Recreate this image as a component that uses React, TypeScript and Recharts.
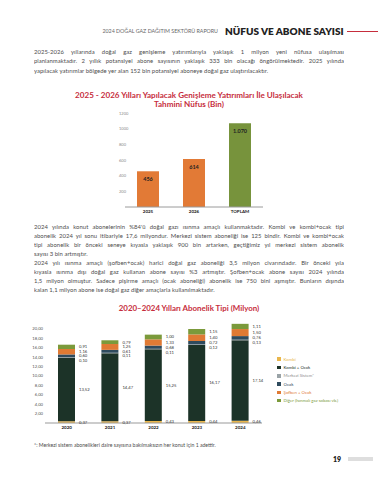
import React from "react";
import { Bar, BarChart, LabelList, XAxis, YAxis, Cell } from "recharts";

// chart 1: expected population (thousand)
const popYears = ["2025", "2026", "TOPLAM"];
const popValues = [456, 614, 1070];
const popLabels = ["456", "614", "1.070"];
const popTicks = [200, 400, 600, 800, 1000, 1200];

// chart 2: subscription type (million)
const subYears = ["2020", "2021", "2022", "2023", "2024"];
const kombi = [0.37, 0.37, 0.43, 0.44, 0.46];
const kombiOcak = [13.52, 14.47, 15.25, 16.17, 17.14];
const merkezi = [0.1, 0.11, 0.11, 0.12, 0.13];
const ocak = [0.6, 0.61, 0.68, 0.72, 0.76];
const sofben = [1.16, 1.25, 1.33, 1.4, 1.5];
const diger = [0.91, 0.79, 1.0, 1.15, 1.11];
const subTicks = [2, 4, 6, 8, 10, 12, 14, 16, 18, 20];

const RED = "#c62d3c";
const TEXT = "#4d4d4d";
const FONT = "Lato, 'Open Sans', sans-serif";

const SERIES = [
  { key: "kombi", name: "Kombi", color: "#e9b64c", dy: 0 },
  { key: "kombiOcak", name: "Kombi + Ocak", color: "#1c3328", dy: 0 },
  { key: "merkezi", name: "Merkezi Sistem*", color: "#9aa3a7", dy: 3 },
  { key: "ocak", name: "Ocak", color: "#2f4b5e", dy: 0 },
  { key: "sofben", name: "Şofben + Ocak", color: "#e07a34", dy: 0 },
  { key: "diger", name: "Diğer (Isınmalı gaz sobası vb.)", color: "#7b9a3b", dy: 0 },
];

const popData = popYears.map((year, i) => ({ year, value: popValues[i], label: popLabels[i] }));
const subData = subYears.map((year, i) => ({
  year,
  kombi: kombi[i],
  kombiOcak: kombiOcak[i],
  merkezi: merkezi[i],
  ocak: ocak[i],
  sofben: sofben[i],
  diger: diger[i],
}));

const fmt = (v: number) => v.toFixed(2).replace(".", ",");

const para1 = [
  "2025-2026 yıllarında doğal gaz genişleme yatırımlarıyla yaklaşık 1 milyon yeni nüfusa ulaşılması",
  "planlanmaktadır. 2 yıllık potansiyel abone sayısının yaklaşık 333 bin olacağı öngörülmektedir. 2025 yılında",
  "yapılacak yatırımlar bölgede yer alan 152 bin potansiyel aboneye doğal gaz ulaştırılacaktır.",
];
const para2 = [
  "2024 yılında konut abonelerinin %84'ü doğal gazı ısınma amaçlı kullanmaktadır. Kombi ve kombi+ocak tipi",
  "abonelik 2024 yıl sonu itibariyle 17,6 milyondur. Merkezi sistem aboneliği ise 125 bindir. Kombi ve kombi+ocak",
  "tipi abonelik bir önceki seneye kıyasla yaklaşık 900 bin artarken, geçtiğimiz yıl merkezi sistem abonelik",
  "sayısı 3 bin artmıştır.",
  "2024 yılı ısınma amaçlı (şofben+ocak) harici doğal gaz aboneliği 3,5 milyon civarındadır. Bir önceki yıla",
  "kıyasla ısınma dışı doğal gaz kullanan abone sayısı %3 artmıştır. Şofben+ocak abone sayısı 2024 yılında",
  "1,5 milyon olmuştur. Sadece pişirme amaçlı (ocak aboneliği) abonelik ise 750 bini aşmıştır. Bunların dışında",
  "kalan 1,1 milyon abone ise doğal gaz diğer amaçlarla kullanılmaktadır.",
];
const lastLines1 = [2];
const lastLines2 = [3, 7];

function Paragraph({ lines, last, top, lh }: { lines: string[]; last: number[]; top: number; lh: number }) {
  return (
    <div style={{ position: "absolute", left: 34, top, width: 310, fontSize: 5.9, letterSpacing: 0.05, lineHeight: `${lh}px`, color: TEXT }}>
      {lines.map((l, i) => (
        <div key={i} style={{ textAlign: "justify", textAlignLast: last.includes(i) ? "left" : "justify", height: lh, overflow: "hidden" }}>
          {l}
        </div>
      ))}
    </div>
  );
}

const PopTick = ({ y, payload }: any) => (
  <text x={19} y={y} fontSize={4} fill="#8a8a8a" dominantBaseline="central" fontFamily={FONT}>
    {payload.value}
  </text>
);

const segLabel = (dy: number) => (props: any) => {
  const { x, y, width, height, value } = props;
  return (
    <text x={x + width + 4} y={y + height / 2 + dy} fontSize={4.2} fill="#333" dominantBaseline="central" fontFamily={FONT}>
      {fmt(Number(value))}
    </text>
  );
};

export default function App() {
  return (
    <div style={{ position: "absolute", left: 0, top: 0, width: 378, height: 480, background: "#fff", overflow: "hidden", fontFamily: FONT }}>
      {/* header */}
      <div style={{ position: "absolute", right: 378 - 218, top: 27, fontSize: 5.3, color: "#666", whiteSpace: "nowrap", lineHeight: "8px" }}>
        2024 DOĞAL GAZ DAĞITIM SEKTÖRÜ RAPORU
      </div>
      <div style={{ position: "absolute", left: 225, top: 25, fontSize: 10, fontWeight: 800, color: "#222", whiteSpace: "nowrap", lineHeight: "12px" }}>
        NÜFUS VE ABONE SAYISI
      </div>
      <div style={{ position: "absolute", left: 347, top: 30.5, width: 31, height: 1.2, background: RED }} />

      <Paragraph lines={para1} last={lastLines1} top={47} lh={9.3} />

      <div style={{ position: "absolute", left: 0, top: 91, width: 378, textAlign: "center", color: RED, fontWeight: 700, fontSize: 8.1, lineHeight: "8.8px", whiteSpace: "nowrap" }}>
        <div>2025 - 2026 Yılları Yapılacak Genişleme Yatırımları İle Ulaşılacak</div>
        <div>Tahmini Nüfus (Bin)</div>
      </div>

      <div style={{ position: "absolute", left: 100, top: 105 }}>
        <BarChart width={180} height={115} data={popData} margin={{ top: 8, right: 17, bottom: 3, left: 0 }}>
          <XAxis
            dataKey="year"
            axisLine={{ stroke: "#9a9a9a" }}
            tickLine={false}
            tickSize={0}
            tickMargin={3}
            height={10}
            interval={0}
            tick={{ fontSize: 4.5, fontWeight: 700, fill: "#222", fontFamily: FONT }}
          />
          <YAxis width={25} domain={[0, 1200]} ticks={popTicks} interval={0} axisLine={false} tickLine={false} tick={<PopTick />} />
          <Bar dataKey="value" barSize={22} isAnimationActive={false}>
            {popData.map((_, i) => (
              <Cell key={i} fill={i === 2 ? "#77933c" : "#e27a36"} />
            ))}
            <LabelList dataKey="label" position="insideTop" offset={6} style={{ fontSize: 5.5, fontWeight: 700, fill: "#222", fontFamily: FONT }} />
          </Bar>
        </BarChart>
      </div>

      <Paragraph lines={para2} last={lastLines2} top={221.5} lh={9.1} />

      <div style={{ position: "absolute", left: 0, top: 304, width: 378, textAlign: "center", color: RED, fontWeight: 700, fontSize: 7.9, lineHeight: "8px", whiteSpace: "nowrap" }}>
        2020–2024 Yılları Abonelik Tipi (Milyon)
      </div>

      <div style={{ position: "absolute", left: 25, top: 316 }}>
        <BarChart width={252} height={118} data={subData} margin={{ top: 3.6, right: 15, bottom: 1, left: 0 }}>
          <XAxis
            dataKey="year"
            axisLine={{ stroke: "#999" }}
            tickLine={false}
            tickSize={0}
            tickMargin={3}
            height={10}
            interval={0}
            tick={{ fontSize: 4.5, fontWeight: 700, fill: "#222", fontFamily: FONT }}
          />
          <YAxis
            width={20}
            domain={[0, 22]}
            ticks={subTicks}
            interval={0}
            axisLine={false}
            tickLine={false}
            tickSize={0}
            tickMargin={2}
            tickFormatter={fmt}
            tick={{ fontSize: 4.2, fill: "#555", fontFamily: FONT }}
          />
          {SERIES.map((s) => (
            <Bar key={s.key} dataKey={s.key} stackId="a" fill={s.color} barSize={17} isAnimationActive={false}>
              <LabelList dataKey={s.key} content={segLabel(s.dy)} />
            </Bar>
          ))}
        </BarChart>
      </div>

      {/* legend */}
      <div style={{ position: "absolute", left: 277, top: 355 }}>
        {SERIES.map((s) => (
          <div key={s.key} style={{ display: "flex", alignItems: "center", height: 8.3 }}>
            <div style={{ width: 3.6, height: 3.6, background: s.color, marginRight: 3 }} />
            <span style={{ fontSize: 4.3, color: s.color === "#9aa3a7" ? "#8d8d8d" : s.color, whiteSpace: "nowrap" }}>{s.name}</span>
          </div>
        ))}
      </div>

      <div style={{ position: "absolute", left: 34, top: 441, fontSize: 5.15, color: TEXT, whiteSpace: "nowrap", lineHeight: "8px" }}>
        *: Merkezi sistem abonelikleri daire sayısına bakılmaksızın her konut için 1 adettir.
      </div>

      <div style={{ position: "absolute", left: 333, top: 455, fontSize: 7, fontWeight: 800, color: "#222", lineHeight: "8px" }}>19</div>
      <div style={{ position: "absolute", left: 348, top: 457, width: 25, height: 4, background: "#dedede" }} />
    </div>
  );
}
